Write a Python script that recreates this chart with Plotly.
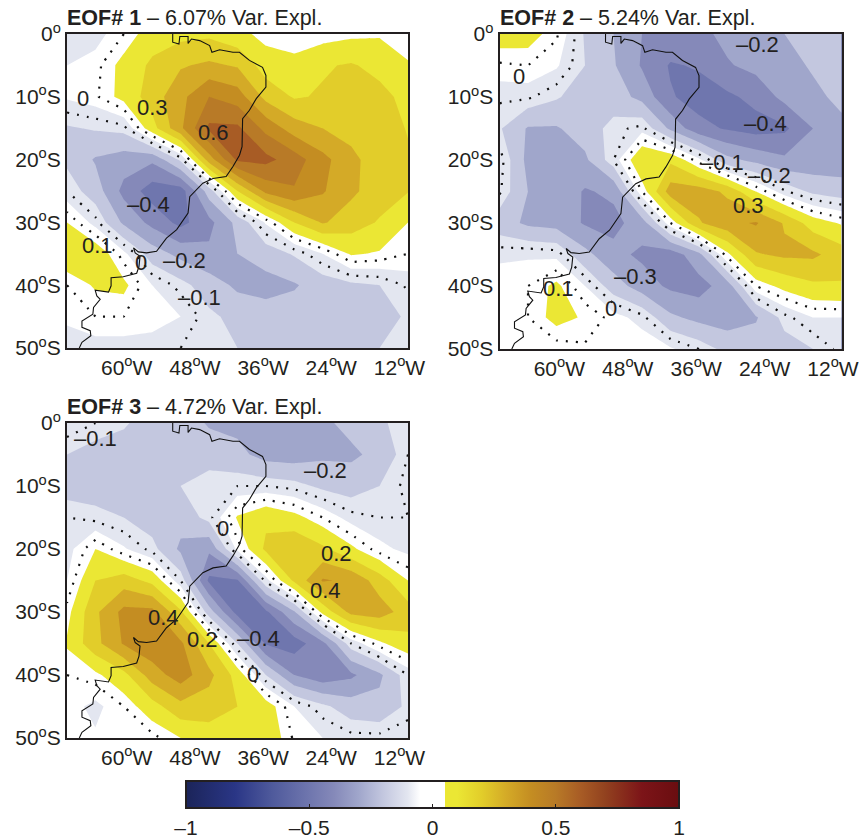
import plotly.graph_objects as go

W, H = 862, 838
INK = "#231f20"
FONT = "Liberation Sans"

lons = [-70.5, -65.5, -60.5, -55.5, -50.5, -45.5, -40.5, -35.5, -30.5, -25.5, -20.5, -15.5, -10.5]
lats = [0, -5, -10, -15, -20, -25, -30, -35, -40, -45, -50]

eof1 = [
    [-0.09, -0.08, 0.0, 0.1, 0.12, 0.13, 0.08, 0.02, 0.0, 0.01, 0.03, 0.04, 0.0],
    [-0.05, -0.02, 0.08, 0.17, 0.24, 0.27, 0.24, 0.1, 0.08, 0.14, 0.16, 0.12, 0.06],
    [-0.04, -0.01, 0.08, 0.2, 0.32, 0.45, 0.4, 0.22, 0.14, 0.16, 0.2, 0.18, 0.12],
    [-0.16, -0.14, -0.12, 0.11, 0.33, 0.57, 0.57, 0.42, 0.3, 0.25, 0.21, 0.19, 0.145],
    [-0.17, -0.26, -0.3, -0.33, -0.13, 0.3, 0.57, 0.58, 0.5, 0.38, 0.28, 0.19, 0.16],
    [-0.1, -0.2, -0.38, -0.5, -0.5, -0.2, 0.15, 0.38, 0.44, 0.36, 0.27, 0.2, 0.155],
    [0.05, -0.08, -0.27, -0.38, -0.48, -0.38, -0.22, -0.04, 0.15, 0.26, 0.2, 0.14, 0.05],
    [0.12, 0.12, -0.03, -0.2, -0.28, -0.33, -0.25, -0.2, -0.14, -0.05, 0.06, 0.04, 0.0],
    [0.0, 0.06, 0.07, -0.05, -0.12, -0.2, -0.27, -0.29, -0.26, -0.2, -0.17, -0.15, -0.09],
    [-0.03, 0.0, 0.0, -0.02, -0.05, -0.13, -0.18, -0.2, -0.2, -0.2, -0.2, -0.18, -0.14],
    [-0.1, -0.08, -0.08, -0.08, -0.1, -0.11, -0.15, -0.17, -0.17, -0.17, -0.17, -0.15, -0.12],
]
eof2 = [
    [0.1, 0.09, 0.01, -0.16, -0.25, -0.35, -0.37, -0.38, -0.32, -0.29, -0.25, -0.22, -0.18],
    [-0.01, 0.0, -0.04, -0.15, -0.24, -0.36, -0.46, -0.44, -0.36, -0.32, -0.28, -0.24, -0.17],
    [-0.09, -0.09, -0.14, -0.2, -0.2, -0.28, -0.44, -0.49, -0.47, -0.42, -0.32, -0.27, -0.23],
    [-0.14, -0.26, -0.26, -0.2, -0.12, -0.08, -0.27, -0.42, -0.46, -0.49, -0.47, -0.35, -0.27],
    [-0.07, -0.28, -0.29, -0.27, -0.1, 0.15, 0.13, -0.03, -0.22, -0.28, -0.33, -0.32, -0.31],
    [-0.09, -0.25, -0.28, -0.36, -0.33, 0.0, 0.3, 0.3, 0.23, 0.05, -0.09, -0.17, -0.2],
    [-0.2, -0.27, -0.29, -0.36, -0.38, -0.3, 0.0, 0.24, 0.32, 0.36, 0.24, 0.1, 0.04],
    [-0.07, -0.06, -0.07, -0.22, -0.32, -0.37, -0.41, -0.28, 0.03, 0.24, 0.27, 0.27, 0.2],
    [0.0, 0.0, 0.07, -0.05, -0.2, -0.3, -0.37, -0.39, -0.3, 0.0, 0.08, 0.13, 0.14],
    [0.0, 0.0, 0.08, 0.04, -0.02, -0.08, -0.23, -0.28, -0.3, -0.26, -0.12, -0.05, -0.05],
    [0.0, -0.02, -0.03, -0.01, 0.0, 0.0, -0.04, -0.1, -0.18, -0.2, -0.19, -0.15, -0.08],
]
eof3 = [
    [-0.06, -0.1, -0.14, -0.19, -0.2, -0.26, -0.28, -0.29, -0.29, -0.27, -0.22, -0.17, -0.1],
    [-0.15, -0.19, -0.19, -0.2, -0.2, -0.2, -0.22, -0.29, -0.3, -0.27, -0.27, -0.22, -0.1],
    [-0.19, -0.2, -0.2, -0.2, -0.15, -0.1, -0.1, -0.1, -0.12, -0.17, -0.19, -0.15, -0.08],
    [-0.1, -0.12, -0.15, -0.2, -0.21, -0.12, 0.06, 0.13, 0.08, 0.0, -0.08, -0.1, -0.1],
    [-0.08, 0.05, -0.04, -0.12, -0.27, -0.33, -0.03, 0.17, 0.24, 0.17, 0.07, -0.03, -0.07],
    [-0.05, 0.15, 0.2, 0.12, -0.1, -0.47, -0.46, -0.08, 0.17, 0.36, 0.33, 0.2, 0.05],
    [0.02, 0.23, 0.38, 0.38, 0.17, -0.2, -0.49, -0.47, -0.26, 0.08, 0.28, 0.3, 0.2],
    [0.06, 0.22, 0.36, 0.42, 0.37, 0.15, -0.15, -0.46, -0.5, -0.38, -0.1, 0.03, 0.12],
    [0.0, 0.03, 0.12, 0.3, 0.4, 0.28, 0.11, -0.15, -0.35, -0.42, -0.37, -0.27, -0.1],
    [-0.02, -0.07, 0.0, 0.11, 0.22, 0.2, 0.15, 0.1, -0.05, -0.13, -0.2, -0.22, -0.13],
    [0.0, -0.04, -0.05, -0.02, 0.05, 0.1, 0.1, 0.12, -0.01, -0.05, -0.08, -0.08, -0.06],
]

coast_lon = [-51.9, -51.9, -50.8, -50.65, -49.2, -49.2, -48.6, -47.15, -45.4, -45.0, -43.65, -41.3, -40.15,
             -38.4, -36.1, -35.5, -35.5, -37.2, -38.4, -39.6, -39.7, -40.15, -41.3, -42.5, -44.8, -46.6,
             -48.9, -49.2, -51.2, -53.0, -54.74, -56.5, -57.95, -58.8, -58.5, -57.65, -57.83, -58.24,
             -60.6, -62.74, -62.74, -63.2, -65.54, -65.25, -64.66, -65.25, -65.83, -65.95, -67.87, -67.87,
             -66.41, -66.3, -67.87, -68.34]
coast_lat = [0, -1.3, -1.6, -0.4, -0.4, -1.5, -0.8, -1.05, -1.85, -2.9, -2.5, -2.9, -2.9,
             -4.2, -5.3, -6.6, -8.45, -10.3, -12.15, -13.5, -17.95, -19.3, -21.1, -22.7, -23.0, -23.75,
             -25.9, -28.5, -31.15, -32.5, -34.6, -34.85, -34.7, -34.05, -34.85, -35.4, -37.0, -38.1,
             -38.65, -38.8, -40.1, -41.1, -40.8, -41.7, -42.25, -43.0, -43.55, -44.6, -45.7, -46.7,
             -47.25, -48.05, -49.1, -50]

tick_lons = [-60, -48, -36, -24, -12]
tick_lon_text = ["60<sup>o</sup>W", "48<sup>o</sup>W", "36<sup>o</sup>W", "24<sup>o</sup>W", "12<sup>o</sup>W"]
tick_lats = [0, -10, -20, -30, -40, -50]
tick_lat_text = ["0<sup>o</sup>", "10<sup>o</sup>S", "20<sup>o</sup>S", "30<sup>o</sup>S", "40<sup>o</sup>S", "50<sup>o</sup>S"]

titles = ["EOF# 1", "EOF# 2", "EOF# 3"]
explained = ["6.07% Var. Expl.", "5.24% Var. Expl.", "4.72% Var. Expl."]

labels1 = [("0", -67.6, -10.3), ("0.3", -55.4, -11.7), ("0.6", -44.8, -15.7), ("–0.4", -56.2, -27.2),
           ("0.1", -65.2, -33.7), ("0", -57.4, -36.4), ("–0.2", -49.8, -36.0), ("–0.1", -47.1, -41.9)]
labels2 = [("0", -67.0, -6.8), ("–0.2", -25.2, -1.7), ("–0.4", -23.9, -14.2), ("–0.1", -31.4, -20.4),
           ("–0.2", -23.2, -22.4), ("0.3", -26.9, -27.3), ("–0.3", -46.7, -38.5), ("0.1", -60.2, -40.4),
           ("0", -50.9, -43.6)]
labels3 = [("–0.1", -65.4, -2.5), ("–0.2", -25.0, -7.5), ("0", -43.0, -16.7), ("0.2", -23.1, -20.7),
           ("0.4", -25.1, -26.6), ("0.4", -53.6, -30.9), ("0.2", -46.7, -34.4), ("–0.4", -36.8, -34.2),
           ("0", -37.7, -39.9)]

color_stops = [(-1, "#1b2459"), (-0.8, "#2a3686"), (-0.65, "#4f5a9c"), (-0.5, "#6f76ae"), (-0.4, "#8589b9"),
               (-0.3, "#a0a6cb"), (-0.2, "#c3c7df"), (-0.1, "#e3e6f0"), (-0.05, "#ffffff"), (0.05, "#ffffff"),
               (0.051, "#ebe734"), (0.1, "#ebe734"), (0.2, "#e2cd2a"), (0.3, "#d4aa27"), (0.4, "#c48d22"),
               (0.5, "#b87a27"), (0.6, "#a85c25"), (0.7, "#92421f"), (0.85, "#7c1418"), (1, "#6a0d10")]
colorscale = [[(v + 1) / 2, c] for v, c in color_stops]

cbar_vals = [-1, -0.5, 0, 0.5, 1]
cbar_text = ["–1", "–0.5", "0", "0.5", "1"]

panels = [
    (eof1, labels1, (67, 408, 34, 348)),
    (eof2, labels2, (499.5, 841.5, 34, 349)),
    (eof3, labels3, (67, 408, 423, 738)),
]

fig = go.Figure()
layout = dict(
    width=W, height=H, margin=dict(l=0, r=0, t=0, b=0, pad=0, autoexpand=False),
    paper_bgcolor="white", plot_bgcolor="white", showlegend=False,
    font=dict(family=FONT, size=21, color=INK), annotations=[],
)

for i, (field, labels, (x0, x1, y0, y1)) in enumerate(panels):
    n = "" if i == 0 else str(i + 1)
    xa, ya = "x" + n, "y" + n
    fig.add_trace(go.Contour(
        x=lons, y=lats, z=field, xaxis=xa, yaxis=ya, zmin=-1, zmax=1, autocontour=False,
        contours=dict(start=-1.05, end=1.05, size=0.1, coloring="fill", showlines=False),
        line=dict(width=0, smoothing=0), colorscale=colorscale, showscale=False, hoverinfo="skip",
    ))
    fig.add_trace(go.Contour(
        x=lons, y=lats, z=field, xaxis=xa, yaxis=ya, autocontour=False,
        contours=dict(start=-0.1, end=0, size=0.1, coloring="none"),
        line=dict(color="#111111", width=2.2, dash="2px,8px", smoothing=0),
        showscale=False, hoverinfo="skip",
    ))
    fig.add_trace(go.Scatter(
        x=coast_lon, y=coast_lat, xaxis=xa, yaxis=ya, mode="lines",
        line=dict(color="#111111", width=1.1), hoverinfo="skip",
    ))
    axis_common = dict(showgrid=False, zeroline=False, ticks="", showline=True, linecolor=INK, linewidth=2,
                       mirror=True, layer="above traces", automargin=False,
                       tickfont=dict(family=FONT, size=21, color=INK))
    layout["xaxis" + n] = dict(domain=[x0 / W, x1 / W], range=[-70.5, -10.5], anchor=ya, tickmode="array",
                               tickvals=tick_lons, ticktext=tick_lon_text, **axis_common)
    layout["yaxis" + n] = dict(domain=[1 - y1 / H, 1 - y0 / H], range=[-50, 0], anchor=xa, tickmode="array",
                               tickvals=tick_lats, ticktext=tick_lat_text, **axis_common)
    layout["annotations"].append(dict(
        xref="paper", yref="paper", x=x0 / W, y=1 - (y0 - 3) / H, xanchor="left", yanchor="bottom",
        text="<b>" + titles[i] + "</b> – " + explained[i], showarrow=False,
        font=dict(family=FONT, size=21.5, color=INK), borderpad=0, xshift=-1,
    ))
    for text, lon, lat in labels:
        layout["annotations"].append(dict(
            xref=xa, yref=ya, x=lon, y=lat, text=text, showarrow=False, xanchor="center", yanchor="middle",
            font=dict(family=FONT, size=22, color=INK),
        ))

fig.add_trace(go.Scatter(
    x=[None, None], y=[None, None], mode="markers", hoverinfo="skip",
    marker=dict(color=[-1, 1], cmin=-1, cmax=1, colorscale=colorscale, showscale=True, colorbar=dict(
        orientation="h", x=(186 + 679) / 2 / W, xanchor="center", y=1 - 781 / H, yanchor="top",
        len=(679 - 186) / W, lenmode="fraction", thickness=27, thicknessmode="pixels",
        xpad=0, ypad=0, outlinecolor=INK, outlinewidth=2, ticks="inside", ticklen=5, tickcolor=INK,
        tickmode="array", tickvals=cbar_vals, ticktext=cbar_text,
        tickfont=dict(family=FONT, size=21, color=INK),
    )),
))

fig.update_layout(**layout)
fig.write_html("out.html", config={"displayModeBar": False}, post_script="document.body.style.margin='0';")
